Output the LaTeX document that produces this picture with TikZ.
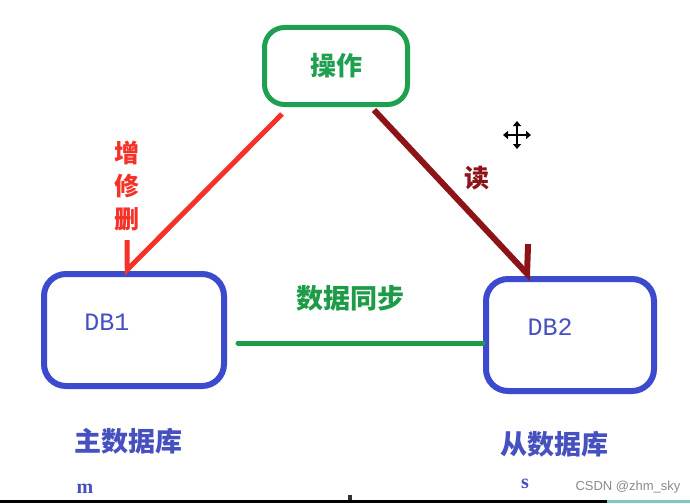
\documentclass[tikz,border=0pt]{standalone}
\usepackage{fontspec}
\setmainfont{Liberation Serif}
\newfontfamily\cjk{Noto Sans CJK SC}
\newfontfamily\dbmono{Liberation Mono}
\newfontfamily\marksans{Liberation Sans}
\usetikzlibrary{arrows.meta,positioning}
\definecolor{OpGreen}{HTML}{1FA050}
\definecolor{SyncGreen}{HTML}{1E9B46}
\definecolor{DbBlue}{HTML}{3C4BCD}
\definecolor{DbText}{HTML}{4650BE}
\definecolor{WriteRed}{HTML}{F53228}
\definecolor{ReadRed}{HTML}{8C1419}
\definecolor{MarkGray}{HTML}{8A8A8A}
\definecolor{EdgeTeal}{HTML}{7CC8BE}

\begin{document}
\begin{tikzpicture}[
    x=1pt, y=-1pt,
    opbox/.style={draw=OpGreen, line width=5pt, rounded corners=20pt, minimum width=143pt, minimum height=77pt, text=OpGreen, font=\cjk\bfseries\fontsize{26}{30}\selectfont},
    dbbox/.style={draw=DbBlue, line width=6pt, rounded corners=22pt, minimum height=112pt},
    dbname/.style={text=DbText, font=\dbmono\fontsize{25}{28}\selectfont},
    dblabel/.style={text=DbText, inner sep=0pt, font=\cjk\bfseries\fontsize{27}{30}\selectfont},
    rolemark/.style={text=DbText, inner sep=0pt, font=\bfseries\fontsize{20}{22}\selectfont},
    writeflow/.style={-{Straight Barb[right, length=21pt, width=42pt]}, line width=5pt, color=WriteRed},
    readflow/.style={-{Straight Barb[left, length=21pt, width=42pt]}, line width=6pt, color=ReadRed},
    syncline/.style={line width=5pt, color=SyncGreen, line cap=round},
    flowlabel/.style={inner sep=0pt, align=center, font=\cjk\bfseries\fontsize{25}{33}\selectfont},
    cursorarrow/.style={{Triangle[length=5pt,width=8pt]}-{Triangle[length=5pt,width=8pt]}, line width=1.8pt}
  ]
    \fill[white] (0,0) rectangle (690,503);
    \useasboundingbox (0,0) rectangle (690,503);

    \node[opbox] (op) at (336,66) {操作};
    \node[dbbox, minimum width=180pt] (db1) at (134,330) {};
    \node[dbbox, minimum width=168pt] (db2) at (570,335) {};
    \node[dbname] (db1name) at (107,322) {DB1};
    \node[dbname] (db2name) at (550,327) {DB2};
    \node[dblabel, below=39pt of db1, xshift=-6pt] (mainlbl) {主数据库};
    \node[dblabel, below=37pt of db2, xshift=-16pt] (slavelbl) {从数据库};
    \node[rolemark] (mmark) at (85,489) {m};
    \node[rolemark] (smark) at (525,484) {s};

    \draw[writeflow] ([xshift=-54pt,yshift=-7pt]op.south) -- ([xshift=-11pt,yshift=-3pt]db1.north);
    \draw[readflow] ([xshift=38pt,yshift=-3pt]op.south) -- ([xshift=-38pt,yshift=-3pt]db2.north);
    \draw[syncline] ([xshift=11pt,yshift=-13pt]db1.east) -- ([yshift=-8pt]db2.west);

    \node[flowlabel, text=WriteRed] (writelbl) at (127,186) {增\\修\\删};
    \node[flowlabel, text=ReadRed] (readlbl) at (477,178) {读};
    \node[flowlabel, text=SyncGreen, font=\cjk\bfseries\fontsize{27}{30}\selectfont] (synclbl) at (350,298) {数据同步};

    \coordinate (cursor) at (517,135);
    \draw[cursorarrow] ([xshift=-14pt]cursor) -- ([xshift=14pt]cursor);
    \draw[cursorarrow] ([yshift=-14pt]cursor) -- ([yshift=14pt]cursor);

    \node[text=MarkGray, font=\marksans\fontsize{13}{15}\selectfont] (wmark) at (628,487) {CSDN @zhm\_sky};
    \draw[line width=3pt] (0,501.5) -- (607,501.5);
    \draw[EdgeTeal, line width=3pt] (607,501.5) -- (690,501.5);
    \fill[black!80] (348,495) rectangle (352,500);
\end{tikzpicture}
\end{document}
